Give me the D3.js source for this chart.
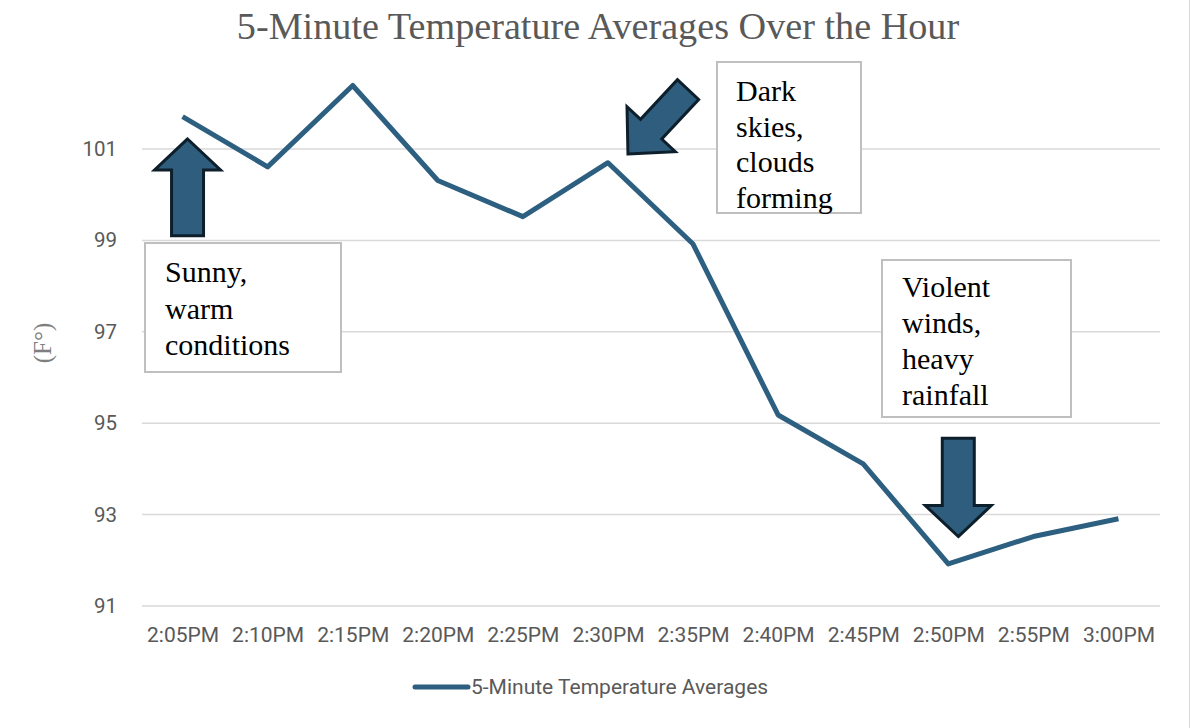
<!DOCTYPE html>
<html>
<head>
<meta charset="utf-8">
<script src="https://cdn.jsdelivr.net/npm/d3@7/dist/d3.min.js"></script>
<style>
  body { margin: 0; background: #fff; }
  svg { display: block; }
</style>
</head>
<body>
<div id="chart"></div>
<script>
// Daten
var times = ["2:05PM", "2:10PM", "2:15PM", "2:20PM", "2:25PM", "2:30PM",
             "2:35PM", "2:40PM", "2:45PM", "2:50PM", "2:55PM", "3:00PM"];
var temps = [101.71, 100.61, 102.39, 100.31, 99.52, 100.70,
             98.92, 95.18, 94.11, 91.92, 92.52, 92.91];
var yTicks = [91, 93, 95, 97, 99, 101];
var seriesName = "5-Minute Temperature Averages";
var titleText = "5-Minute Temperature Averages Over the Hour";
var yLabel = "(F\u00B0)";

// Textboxen
var noteSunny = ["Sunny,", "warm", "conditions"];
var noteDark = ["Dark", "skies,", "clouds", "forming"];
var noteStorm = ["Violent", "winds,", "heavy", "rainfall"];

document.addEventListener('DOMContentLoaded', function(e) {

    var W = 1192, H = 728;
    var lineColor = "#2d5f80";
    var grey = "#595959";

    var svg = d3.select("#chart")
    .append("svg")
        .attr("width", W)
        .attr("height", H);

    // Skalen
    var x = d3.scalePoint()
    .domain(times)
    .range([140, 1161])
    .padding(0.5);

    var y = d3.scaleLinear()
    .domain([91, 103])
    .range([606, 57.6]);

    // Titel
    svg.append("text")
        .attr("x", 598)
        .attr("y", 39)
        .attr("text-anchor", "middle")
        .attr("font-family", "'Liberation Serif', 'Times New Roman', serif")
        .attr("font-size", "38.2px")
        .attr("fill", grey)
        .text(titleText);

    // Gitterlinien
    svg.selectAll("line.grid")
    .data(yTicks)
    .enter()
    .append("line")
        .attr("class", "grid")
        .attr("x1", 142)
        .attr("x2", 1160)
        .attr("y1", function(d){ return y(d) })
        .attr("y2", function(d){ return y(d) })
        .attr("stroke", "#d9d9d9")
        .attr("stroke-width", 1.5);

    // y-Achse
    var yAxis = svg.append("g")
    .attr("transform", "translate(125,0)")
    .call(d3.axisLeft(y).tickValues(yTicks).tickSize(0).tickPadding(8));
    yAxis.select(".domain").remove();
    yAxis.selectAll("text")
        .attr("font-family", "Roboto, sans-serif")
        .attr("font-size", "20.5px")
        .attr("fill", grey);

    // x-Achse
    var xAxis = svg.append("g")
    .attr("transform", "translate(0,606)")
    .call(d3.axisBottom(x).tickSize(0).tickPadding(21));
    xAxis.select(".domain").remove();
    xAxis.selectAll("text")
        .attr("font-family", "Roboto, sans-serif")
        .attr("font-size", "21px")
        .attr("fill", grey);

    // y-Beschriftung
    svg.append("text")
        .attr("transform", "translate(51,343) rotate(-90)")
        .attr("text-anchor", "middle")
        .attr("font-family", "'Liberation Serif', serif")
        .attr("font-size", "25px")
        .attr("fill", "#7f7f7f")
        .text(yLabel);

    // Linie
    var line = d3.line()
    .x(function(d, i){ return x(times[i]) })
    .y(function(d){ return y(d) });

    svg.append("path")
        .datum(temps)
        .attr("d", line)
        .attr("fill", "none")
        .attr("stroke", lineColor)
        .attr("stroke-width", 5)
        .attr("stroke-linejoin", "round");

    // Textboxen
    function note(lines, bx, by, bw, bh, tx, ty0, step) {
        svg.append("rect")
            .attr("x", bx).attr("y", by)
            .attr("width", bw).attr("height", bh)
            .attr("fill", "#fff")
            .attr("stroke", "#bfbfbf")
            .attr("stroke-width", 2);
        svg.append("g")
        .selectAll("text")
        .data(lines)
        .enter()
        .append("text")
            .attr("x", tx)
            .attr("y", function(d, i){ return ty0 + i * step })
            .attr("font-family", "'Liberation Serif', 'Times New Roman', serif")
            .attr("font-size", "30px")
            .attr("fill", "#000")
            .text(function(d){ return d });
    }
    note(noteSunny, 145, 243, 196, 129, 165, 282, 36.5);
    note(noteDark, 717, 62, 144, 151, 736, 101, 35.5);
    note(noteStorm, 882, 260, 189, 157, 902, 297, 36);

    // Pfeile
    function arrow(tx, ty, ex, ey, shaftW, headW, headL) {
        var dx = ex - tx, dy = ey - ty;
        var len = Math.sqrt(dx * dx + dy * dy);
        var ux = dx / len, uy = dy / len;
        var px = -uy, py = ux;
        var bx = tx + ux * headL, by = ty + uy * headL;
        var pts = [
            [tx, ty],
            [bx + px * headW / 2, by + py * headW / 2],
            [bx + px * shaftW / 2, by + py * shaftW / 2],
            [ex + px * shaftW / 2, ey + py * shaftW / 2],
            [ex - px * shaftW / 2, ey - py * shaftW / 2],
            [bx - px * shaftW / 2, by - py * shaftW / 2],
            [bx - px * headW / 2, by - py * headW / 2]
        ];
        svg.append("path")
            .attr("d", "M" + pts.map(function(p){ return p[0] + "," + p[1] }).join("L") + "Z")
            .attr("fill", "#2e5d7d")
            .attr("stroke", "#0e1f2c")
            .attr("stroke-width", 3)
            .attr("stroke-linejoin", "miter");
    }
    arrow(x("2:05PM") + 5, y(101.22), x("2:05PM") + 5, y(99.10), 32, 66, 31);
    arrow(x("2:30PM") + 20, y(100.89), x("2:35PM") - 5, y(102.30), 29, 66, 34);
    arrow(x("2:50PM") + 10, y(92.52), x("2:50PM") + 10, y(94.67), 32, 66, 31);

    // Legende
    svg.append("line")
        .attr("x1", 415).attr("x2", 468)
        .attr("y1", 687).attr("y2", 687)
        .attr("stroke", lineColor)
        .attr("stroke-width", 5)
        .attr("stroke-linecap", "round");
    svg.append("text")
        .attr("x", 471)
        .attr("y", 694)
        .attr("font-family", "Roboto, sans-serif")
        .attr("font-size", "21px")
        .attr("fill", grey)
        .text(seriesName);

    // Rand rechts
    svg.append("line")
        .attr("x1", 1189.5).attr("x2", 1189.5)
        .attr("y1", 0).attr("y2", H)
        .attr("stroke", "#d9d9d9")
        .attr("stroke-width", 1);
})
</script>
</body>
</html>
